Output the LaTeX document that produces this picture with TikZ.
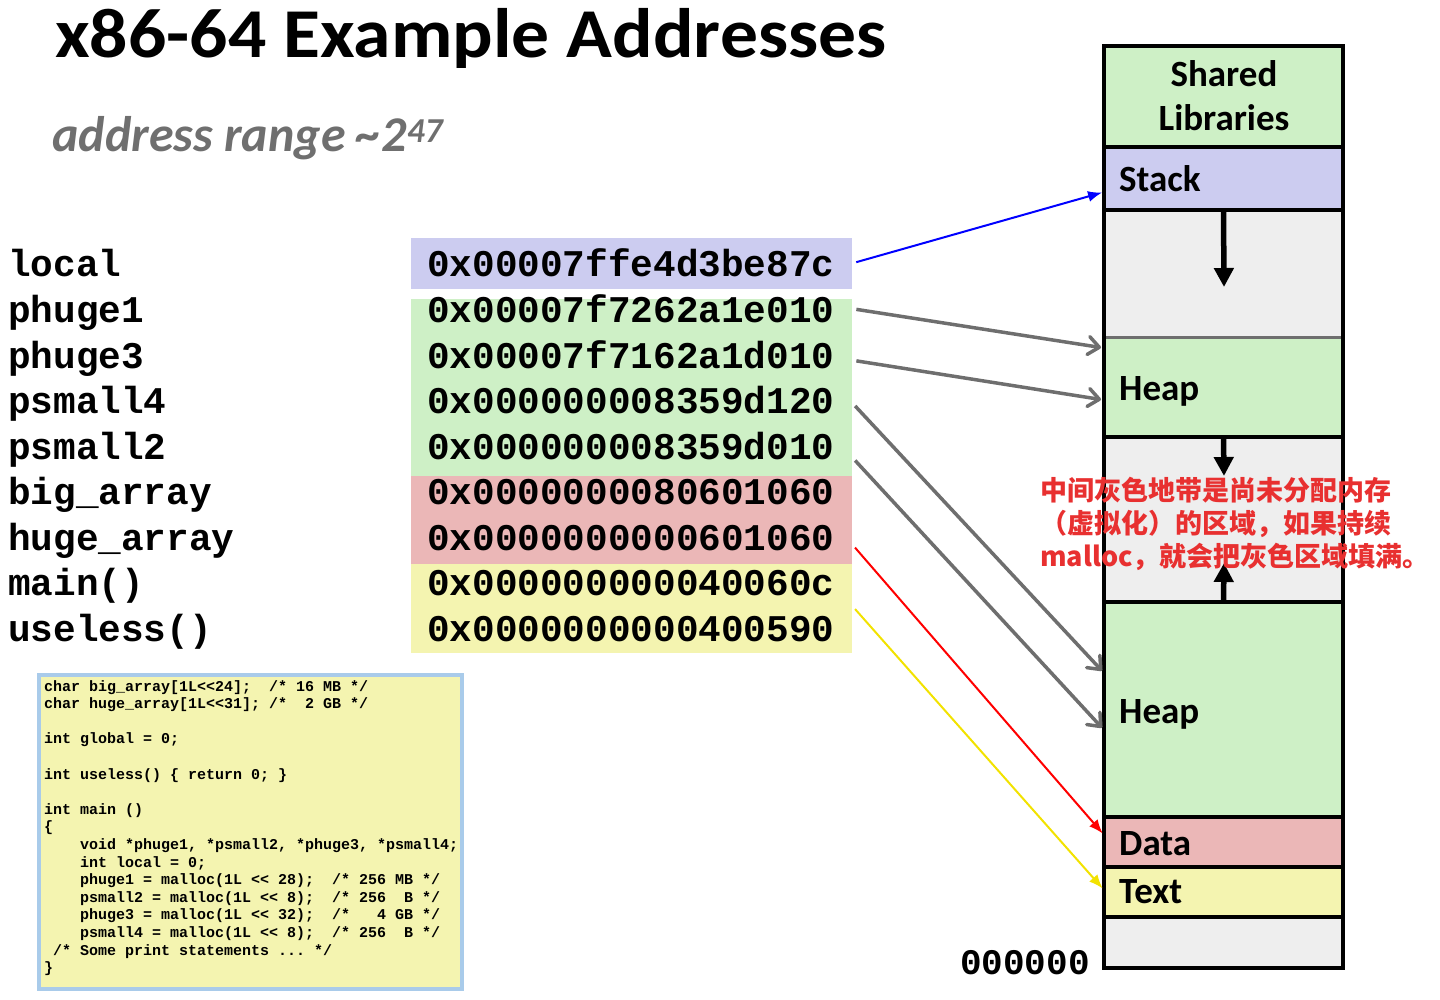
\documentclass[tikz,border=0pt]{standalone}
\usepackage{fontspec}
\setmainfont{Carlito}
\setmonofont{Liberation Mono}
\newfontfamily\cjkfont{Noto Sans CJK SC}
\newcommand\crfont{\ttfamily\bfseries\frenchspacing\fontdimen2\font=0.6em\fontdimen3\font=0pt\fontdimen4\font=0pt\relax}
\usetikzlibrary{arrows.meta,calc,positioning}
\definecolor{segblue}{HTML}{CCCCF0}
\definecolor{seggreen}{HTML}{CEF0C6}
\definecolor{segred}{HTML}{EBB7B7}
\definecolor{segyellow}{HTML}{F4F4B0}
\definecolor{seggray}{HTML}{EEEEEE}
\definecolor{ptrgray}{HTML}{6E6E6E}
\definecolor{subgray}{HTML}{6F6F6F}
\definecolor{notered}{HTML}{E83030}
\definecolor{glowblue}{HTML}{A9CBEA}
\definecolor{ptryellow}{HTML}{F2E200}
\tikzset{
  seg/.style={anchor=north west, minimum width=239pt, inner sep=0pt, outer sep=0pt},
  segline/.style={black, line width=4pt},
  seglabel/.style={anchor=base west, inner sep=0pt, font=\fontsize{37}{44}\selectfont\bfseries},
  varlabel/.style={anchor=base west, inner sep=0pt, font=\fontsize{37.7}{45.5}\selectfont\crfont},
  hexval/.style={varlabel, text width=425pt, align=left},
  growth/.style={black, line width=5.5pt, -{Triangle[length=19pt,width=19pt]}},
  ptrthin/.style={line width=2pt, shorten <=4pt, shorten >=2pt, -{Latex[length=14pt,width=11pt]}},
  ptrthick/.style={ptrgray, line width=3.5pt, shorten <=4pt, shorten >=3pt, -{Straight Barb[length=11pt,width=18pt,round]}},
  codebox/.style={anchor=north west, draw=glowblue, line width=3.5pt, fill=segyellow, minimum width=423pt, minimum height=314pt, inner sep=0pt},
  codetext/.style={anchor=base west, inner sep=0pt, text width=420pt, align=left, font=\fontsize{15}{17.6}\selectfont\crfont}
}

\begin{document}
\begin{tikzpicture}[x=1pt,y=-1pt]
  \useasboundingbox (0,0) rectangle (1440,1000);
  \node[anchor=base west, inner sep=0pt, font=\fontsize{70}{78}\selectfont\bfseries] (title) at (55,58) {\scalebox{1.08}[1]{x86-64 Example Addresses}};
  \node[anchor=base west, inner sep=0pt, text=subgray, font=\fontsize{50}{58}\selectfont\bfseries\itshape] (range) at (52,152) {address range \textasciitilde 2\textsuperscript{47}};

  \fill[segblue] (411,238) rectangle (852,289);
  \fill[seggreen] (411,299) rectangle (852,476);
  \fill[segred] (411,476) rectangle (852,564);
  \fill[segyellow] (411,564) rectangle (852,653);
  \foreach \lab/\hx [count=\i] in {local/0x00007ffe4d3be87c, phuge1/0x00007f7262a1e010, phuge3/0x00007f7162a1d010,
      psmall4/0x000000008359d120, psmall2/0x000000008359d010, big\_array/0x0000000080601060,
      huge\_array/0x0000000000601060, main()/0x000000000040060c, useless()/0x0000000000400590}{
    \node[varlabel] (var\i) at (8,{277+45.5*(\i-1)}) {\lab};
    \node[hexval] (hex\i) at (427,{277+45.5*(\i-1)}) {\hx};
  }

  \node[seg, fill=seggreen, minimum height=101pt] (libs) at (1104,46) {};
  \node[seg, fill=segblue, minimum height=63pt] (stack) at (1104,147) {};
  \node[seg, fill=seggray, minimum height=127pt] (free1) at (1104,210) {};
  \node[seg, fill=seggreen, minimum height=100pt] (heap1) at (1104,337) {};
  \node[seg, fill=seggray, minimum height=165pt] (free2) at (1104,437) {};
  \node[seg, fill=seggreen, minimum height=215pt] (heap2) at (1104,602) {};
  \node[seg, fill=segred, minimum height=50pt] (data) at (1104,817) {};
  \node[seg, fill=segyellow, minimum height=50pt] (textseg) at (1104,867) {};
  \node[seg, fill=seggray, minimum height=51pt] (free0) at (1104,917) {};
  \foreach \s in {libs,stack,heap1,free2,heap2,data,textseg}
    \draw[segline] (\s.south west) -- (\s.south east);
  \draw[ptrgray, line width=3pt] (free1.south west) -- (free1.south east);
  \draw[segline] (libs.north west) rectangle (free0.south east);

  \node[seglabel, anchor=base, text width=200pt, align=center] (llibs) at (1224,87) {Shared\\Libraries};
  \node[seglabel] (lstack) at (1119,192) {Stack};
  \node[seglabel] (lheap1) at (1119,400) {Heap};
  \node[seglabel] (lheap2) at (1119,723) {Heap};
  \node[seglabel] (ldata) at (1119,855) {Data};
  \node[seglabel] (ltext) at (1119,903) {Text};
  \node[varlabel, anchor=base east, font=\fontsize{36}{40}\selectfont\crfont] (zero) at (1090,974) {000000};

  \coordinate (stacktip) at (1224,287);
  \coordinate (downtip) at (1224,476);
  \coordinate (uptip) at (1224,563);
  \draw[growth] (stack.south) -- (stacktip);
  \draw[growth] (heap1.south) -- (downtip);
  \draw[growth] (heap2.north) -- (uptip);

  \draw[ptrthin, blue] (hex1.east) -- ([yshift=-13.5pt]stack.west);
  \draw[ptrthick] (hex2.east) -- ([yshift=39pt]heap1.west);
  \draw[ptrthick] ([yshift=-6pt]hex3.east) -- ([yshift=-13pt]heap1.west);
  \draw[ptrthick] ([yshift=-3pt]hex4.east) -- ([yshift=36.5pt]heap2.west);
  \draw[ptrthick] ([yshift=-12pt]hex5.east) -- ([yshift=-20.5pt]heap2.west);
  \draw[ptrthin, red] ([yshift=-7pt]hex7.east) -- ([yshift=7pt]data.west);
  \draw[ptrthin, ptryellow] ([yshift=-23pt]hex8.east) -- ([yshift=2pt]textseg.west);

  \node[anchor=base west, inner sep=0pt, text width=400pt, align=left, text=notered,
    font=\cjkfont\bfseries\fontsize{27}{33}\selectfont] (note) at (1040,500)
    {中间灰色地带是尚未分配内存\\（虚拟化）的区域，如果持续\\malloc，就会把灰色区域填满。};

  \node[codebox] (codebox) at (37,673) {};
  \node[codetext] (code) at (44,691) {\spaceskip=0pt\xspaceskip=0pt%
char big\_array[1L<{}<24];~~/* 16 MB */\\
char huge\_array[1L<{}<31]; /*~~2 GB */\\[17.6pt]
int global = 0;\\[17.6pt]
int useless() \{ return 0; \}\\[17.6pt]
int main ()\\
\{\\
~~~~void *phuge1, *psmall2, *phuge3, *psmall4;\\
~~~~int local = 0;\\
~~~~phuge1 = malloc(1L <{}< 28);~~/* 256 MB */\\
~~~~psmall2 = malloc(1L <{}< 8);~~/* 256~~B */\\
~~~~phuge3 = malloc(1L <{}< 32);~~/*~~~4 GB */\\
~~~~psmall4 = malloc(1L <{}< 8);~~/* 256~~B */\\
~/* Some print statements ... */\\
\}};
\end{tikzpicture}
\end{document}
